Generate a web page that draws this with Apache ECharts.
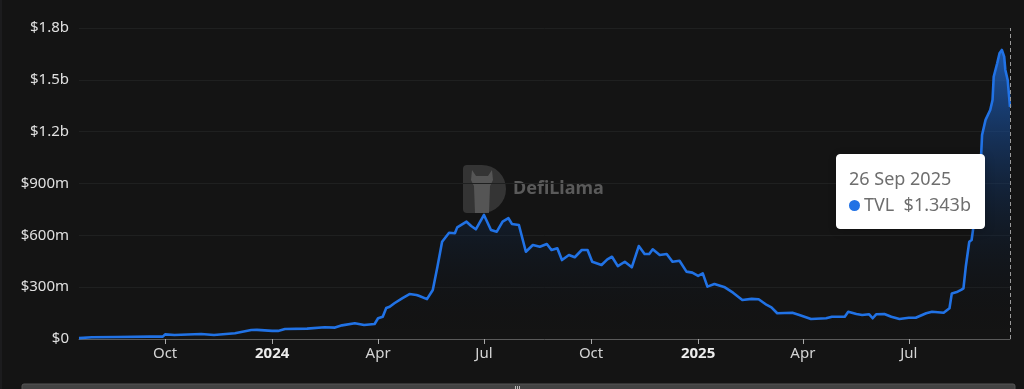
<!DOCTYPE html>
<html>
<head>
<meta charset="utf-8">
<script src="https://cdn.jsdelivr.net/npm/echarts@6/dist/echarts.min.js"></script>
<style>
html,body{margin:0;padding:0;background:#141414;}
#chart{width:1024px;height:389px;}
</style>
</head>
<body>
<div id="chart"></div>
<script>
// ---- data (TVL in millions USD) ----
const dates = [
'2023-07-19','2023-07-30','2023-08-21','2023-09-18','2023-09-29','2023-10-01','2023-10-09','2023-11-01','2023-11-12','2023-11-30',
'2023-12-14','2023-12-19','2024-01-01','2024-01-06','2024-01-12','2024-01-31','2024-02-15','2024-02-24','2024-03-01','2024-03-12',
'2024-03-20','2024-03-29','2024-04-01','2024-04-05','2024-04-08','2024-04-11','2024-04-15','2024-04-22','2024-04-28','2024-05-04',
'2024-05-06','2024-05-13','2024-05-18','2024-05-22','2024-05-26','2024-06-01','2024-06-06','2024-06-08','2024-06-16','2024-06-20',
'2024-06-24','2024-07-01','2024-07-07','2024-07-12','2024-07-17','2024-07-22','2024-07-25','2024-07-31','2024-08-06','2024-08-12',
'2024-08-18','2024-08-24','2024-08-28','2024-09-02','2024-09-06','2024-09-12','2024-09-17','2024-09-23','2024-09-28','2024-10-02',
'2024-10-10','2024-10-15','2024-10-19','2024-10-24','2024-10-30','2024-11-05','2024-11-11','2024-11-16','2024-11-20','2024-11-23',
'2024-11-29','2024-12-05','2024-12-10','2024-12-16','2024-12-22','2024-12-27','2025-01-01','2025-01-05','2025-01-09','2025-01-15',
'2025-01-24','2025-01-31','2025-02-08','2025-02-16','2025-02-22','2025-03-01','2025-03-05','2025-03-10','2025-03-23','2025-03-29',
'2025-04-08','2025-04-21','2025-04-26','2025-05-07','2025-05-10','2025-05-17','2025-05-22','2025-05-28','2025-05-31','2025-06-03',
'2025-06-10','2025-06-16','2025-06-23','2025-07-01','2025-07-07','2025-07-16','2025-07-21','2025-07-31','2025-08-05','2025-08-07',
'2025-08-12','2025-08-15','2025-08-17','2025-08-19','2025-08-22','2025-08-24','2025-08-28','2025-09-01','2025-09-02','2025-09-05',
'2025-09-09','2025-09-11','2025-09-12','2025-09-15','2025-09-17','2025-09-19','2025-09-21','2025-09-22','2025-09-24','2025-09-26'
];
const tvl = [
5,10,12,14,14,27,23,29,23,33,
52,53,47,47,58,60,68,66,79,91,
81,87,120,129,179,187,207,237,260,255,
250,231,284,418,563,615,612,646,679,654,
635,718,631,621,679,699,666,660,505,544,
534,550,515,525,457,486,473,515,515,447,
428,461,476,422,447,415,538,492,492,519,
486,492,447,453,390,384,365,380,303,318,
299,268,226,232,230,197,183,149,152,139,
116,120,129,129,158,145,139,143,120,143,
145,129,116,123,123,149,158,152,178,264,
274,284,293,418,563,573,766,1036,1181,1268,
1325,1383,1518,1596,1654,1673,1634,1557,1499,1343
];
const tickDates = ['2023-10-01','2024-01-01','2024-04-01','2024-07-01','2024-10-01','2025-01-01','2025-04-01','2025-07-01'];
const seriesName = 'TVL';
const monthNames = ['Jan','Feb','Mar','Apr','May','Jun','Jul','Aug','Sep','Oct','Nov','Dec'];

function parseLocal(s){ const p = s.split('-').map(Number); return new Date(p[0], p[1]-1, p[2]).getTime(); }
const seriesData = dates.map((d, i) => [parseLocal(d), tvl[i] * 1e6]);
const tickValues = tickDates.map(parseLocal);

function fmtMoney(v){
  if (v === 0) return '$0';
  if (v >= 1e9) return '$' + (v/1e9).toFixed(1) + 'b';
  return '$' + Math.round(v/1e6) + 'm';
}

const FONT = 'Noto Sans';
const chart = echarts.init(document.getElementById('chart'), null, {renderer: 'canvas'});
chart.setOption({
  animation: false,
  backgroundColor: '#141414',
  textStyle: {fontFamily: FONT},
  grid: {left: 79, right: 14, top: 28, bottom: 50},
  graphic: [
    {type: 'rect', shape: {x: 0, y: 0, width: 2, height: 389}, style: {fill: '#1c1c1e'}, silent: true},
    // watermark
    {type: 'rect', shape: {x: 463, y: 165, width: 43, height: 48, r: [4, 24, 24, 4]}, style: {fill: '#3a3a3a', opacity: 0.85}, silent: true, z: 0},
    {type: 'polygon', shape: {points: [[472,170],[476,176],[488,176],[492,170],[493,180],[490,186],[489,213],[475,213],[474,186],[471,180]]}, style: {fill: '#5e5e5e', opacity: 0.8}, silent: true, z: 0},
    {type: 'text', x: 513, y: 180, style: {text: 'DefiLlama', fill: '#5a5a5a', font: 'bold 18px "Noto Sans"'}, silent: true, z: 0},
    // bottom slider bar (cut off)
    {type: 'rect', shape: {x: 22, y: 384, width: 993, height: 10, r: 2}, style: {fill: '#434343', stroke: '#555', lineWidth: 1}, silent: true},
    {type: 'rect', shape: {x: 515, y: 386, width: 1, height: 4}, style: {fill: '#bbb'}, silent: true},
    {type: 'rect', shape: {x: 517, y: 386, width: 1, height: 4}, style: {fill: '#bbb'}, silent: true},
    {type: 'rect', shape: {x: 519, y: 386, width: 1, height: 4}, style: {fill: '#bbb'}, silent: true}
  ],
  tooltip: {
    trigger: 'axis',
    alwaysShowContent: true,
    transitionDuration: 0,
    backgroundColor: '#ffffff',
    borderColor: '#ffffff',
    borderRadius: 4,
    padding: [10, 13, 11, 12],
    position: function(){ return [836, 154]; },
    axisPointer: {type: 'line', animation: false, label: {show: false}, lineStyle: {color: '#9a9a9a', type: [4, 3], width: 1}},
    formatter: function(params){
      const p = params[0];
      const d = new Date(p.value[0]);
      const ds = d.getDate() + ' ' + monthNames[d.getMonth()] + ' ' + d.getFullYear();
      const v = '$' + (p.value[1]/1e9).toFixed(3) + 'b';
      return '<div style="font-family:\'Noto Sans\';font-size:18px;line-height:26px;color:#6e6e6e;">' + ds + '</div>' +
        '<div style="font-family:\'Noto Sans\';font-size:18px;line-height:26px;color:#6e6e6e;white-space:nowrap;">' +
        '<span style="display:inline-block;width:11px;height:11px;border-radius:50%;background:#2172e5;margin-right:4px;vertical-align:0px;"></span>' +
        p.seriesName + '&nbsp;&nbsp;' + v + '</div>';
    }
  },
  xAxis: {
    type: 'value',
    min: seriesData[0][0],
    max: seriesData[seriesData.length-1][0],
    axisLine: {lineStyle: {color: '#5a5a5a', width: 1}},
    axisTick: {show: true, customValues: tickValues, length: 5, lineStyle: {color: '#aaaaaa'}},
    splitLine: {show: false},
    axisLabel: {
      customValues: tickValues,
      color: '#d4d4d4',
      fontSize: 15,
      fontFamily: FONT,
      margin: 7,
      formatter: function(val){
        const d = new Date(val);
        if (d.getMonth() === 0) return '{y|' + d.getFullYear() + '}';
        return monthNames[d.getMonth()];
      },
      rich: {y: {fontWeight: 'bold', color: '#ededed', fontSize: 15, fontFamily: FONT}}
    }
  },
  yAxis: {
    type: 'value',
    min: 0,
    max: 1800e6,
    interval: 300e6,
    axisLine: {show: false},
    axisTick: {show: false},
    splitLine: {lineStyle: {color: '#1f2020', width: 1}},
    axisLabel: {color: '#e0e0e0', fontSize: 15, fontFamily: FONT, margin: 10, formatter: fmtMoney}
  },
  series: [{
    name: seriesName,
    type: 'line',
    data: seriesData,
    symbol: 'none',
    lineStyle: {color: '#2172e5', width: 2.6, join: 'round'},
    itemStyle: {color: '#2172e5'},
    emphasis: {disabled: true},
    areaStyle: {
      color: new echarts.graphic.LinearGradient(0, 0, 0, 1, [
        {offset: 0, color: 'rgba(33,114,229,1)'},
        {offset: 1, color: 'rgba(0,0,0,0)'}
      ])
    },
    z: 3
  }]
});
chart.dispatchAction({type: 'showTip', seriesIndex: 0, dataIndex: seriesData.length - 1});
</script>
</body>
</html>
